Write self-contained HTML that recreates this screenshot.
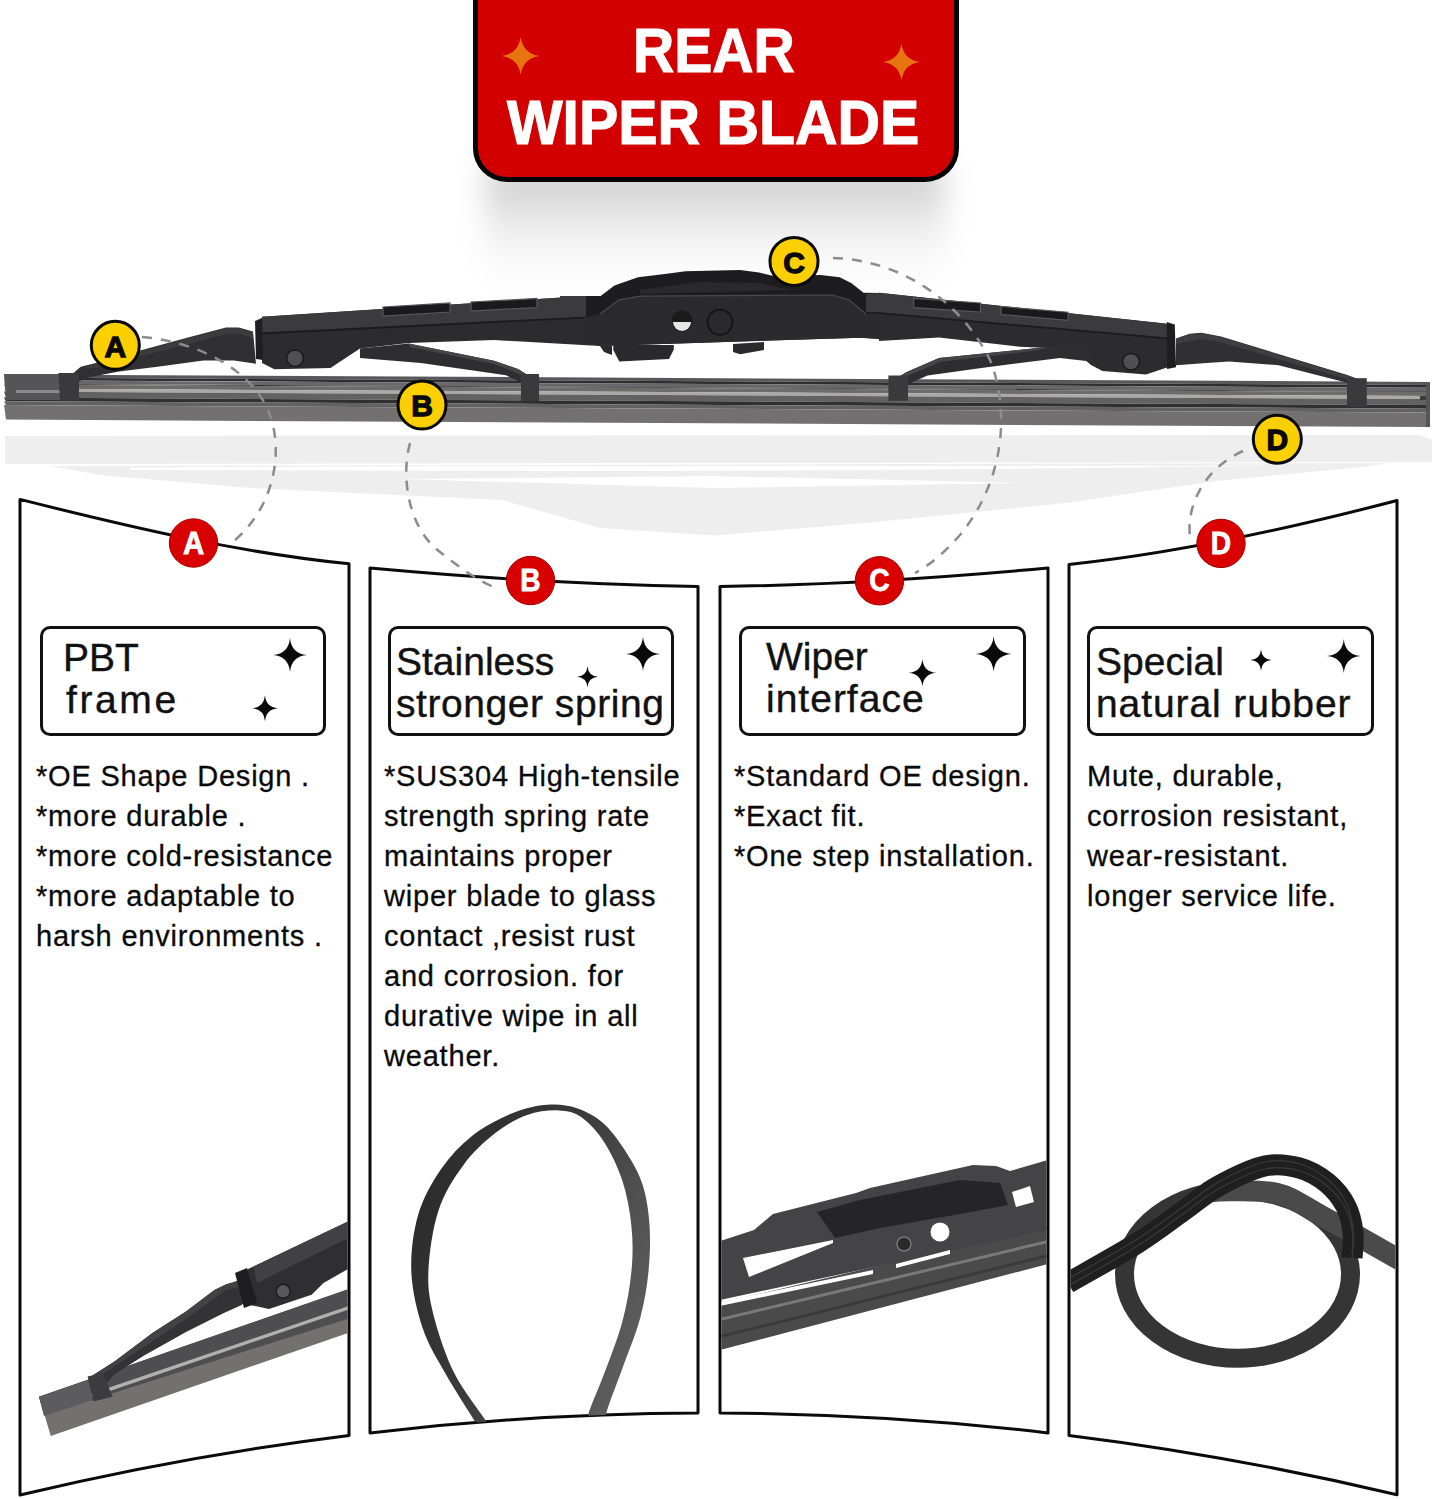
<!DOCTYPE html>
<html><head><meta charset="utf-8">
<style>
html,body{margin:0;padding:0;background:#fff;}
body{width:1434px;height:1499px;position:relative;overflow:hidden;font-family:"Liberation Sans",sans-serif;color:#111;}
.abs{position:absolute;}
#title{position:absolute;left:473px;top:-40px;width:476px;height:212px;background:#d20000;border:5px solid #050505;border-radius:34px;}
.tt{position:absolute;color:#fff;font-weight:bold;font-size:63px;line-height:63px;white-space:nowrap;-webkit-text-stroke:1.2px #fff;transform-origin:0 0;}
.body{position:absolute;font-size:29px;line-height:40px;letter-spacing:0.8px;white-space:nowrap;color:#0a0a0a;-webkit-text-stroke:0.3px #0a0a0a;}
.ptitle{position:absolute;font-size:39px;line-height:42px;white-space:nowrap;color:#111;-webkit-text-stroke:0.4px #111;}
</style></head>
<body>
<div class="abs" style="left:485px;top:165px;width:460px;height:125px;background:linear-gradient(to bottom, rgba(0,0,0,0.2) 0%, rgba(0,0,0,0.14) 25%, rgba(0,0,0,0.06) 55%, rgba(0,0,0,0.015) 80%, rgba(0,0,0,0) 100%);filter:blur(14px);"></div>
<svg class="abs" style="left:0;top:0" width="1434" height="1499" viewBox="0 0 1434 1499">
  <!-- reflection -->
  <g fill="#eeeeee">
    <path d="M5,436 L1420,435 L1432,440 L1432,462 L5,464 Z"/>
    <path d="M50,466 L1390,463 L1362,467 L1216,481 L1066,503 L865,523 L714,535.5 L600,528 L502,500 L251,488 L100,475 Z"/>
    <path d="M130,467.5 L480,466 L1000,466 L1290,465.5 L1000,469 L660,471 L130,470 Z" fill="#fff"/>
    <path d="M400,479 L714,476 L1025,483 L714,488 Z" fill="#fff"/>
  </g>
  <!-- wiper blade strip -->
  <g>
<path fill="#58585c" d="M4,374.4 L1430,381.9 L1430,385.1 L6,377.6 Z"/>
<path fill="#2e2e30" d="M4,377.6 L1430,385.1 L1430,387.8 L6,380.3 Z"/>
<path fill="#68686c" d="M4,380.3 L1430,387.8 L1430,391.3 L6,383.8 Z"/>
<path fill="#2a2a2a" d="M4,383.8 L1430,391.3 L1430,392.1 L6,384.6 Z"/>
<path fill="#6c6c6a" d="M4,384.6 L1430,392.1 L1430,396.1 L6,388.6 Z"/>
<path fill="#aaa9a5" d="M4,388.6 L1430,396.1 L1430,399.1 L6,391.6 Z"/>
<path fill="#626262" d="M4,391.6 L1430,399.1 L1430,405.1 L6,397.6 Z"/>
<path fill="#303030" d="M4,397.6 L1430,405.1 L1430,408.7 L6,401.2 Z"/>
<path fill="#626262" d="M4,401.2 L1430,408.7 L1430,412.6 L6,405.1 Z"/>
<path fill="#727070" d="M4,405.1 L1430,412.6 L1430,427.1 L6,419.6 Z"/>
    <!-- end caps -->
    <path fill="#555557" d="M4,374 L60,374 L60,400 L6,400 Z"/>
    <path fill="#8a8a8a" d="M16,390 L60,390 L60,393 L16,393 Z"/>
    <path fill="#3a3a3a" d="M1420,396 L1430,396 L1430,400 L1420,400 Z"/>
    <path fill="#555" d="M1426,382 L1430,382 L1430,427 L1426,427 Z"/>
  </g>
  <!-- wiper frame -->
  <g>
    <!-- left narrow arm -->
    <path d="M70,376 L80.7,366.8 L96,363 L142,350 L188,337.6 L226,327.6 L238.7,327.6 L253,331.5 L256,363.7 L234,360.6 L203.4,360.6 L157.4,366.8 L119,371.4 L88,377.5 L77.6,382 Z" fill="#303032"/>
    <path d="M82,369 L96,364 L142,351 L188,338.6 L226,328.6 L239,328.6 L253,332.5 L253,338 L239,334 L226,334 L188,344 L142,356 L96,368 Z" fill="#3c3c3e"/>
    <!-- left strut -->
    <path d="M360,348.5 L408.6,343.6 L494,360.7 L518.5,369.2 L528,375.3 L521,382.6 L506,375.3 L421,363 L360,358 Z" fill="#2e2e30"/>
    <path d="M408.6,343.6 L494,360.7 L518.5,369.2 L528,375.3 L525,377 L512,371 L494,364 L410,347 Z" fill="#454547"/>
    <!-- left main frame -->
    <path d="M262,316.7 L584.4,296 L600,296 L600,346 L494,340 L408.6,343 L360,348.5 L338,363 L330.5,368 L274.4,369.2 L262,363 Z" fill="#2c2c2e"/>
    <path d="M262,316.7 L584.4,296 L584.4,316.7 L262,332.6 Z" fill="#3b3b3d"/>
    <path d="M262,332.6 L584.4,316.7 L584.4,318.5 L262,334.4 Z" fill="#1c1c1e"/>
    <!-- left collar -->
    <path d="M255,321 L262,318 L263,360 L256,359 Z" fill="#1e1e20"/>
    <!-- center piece -->
    <path d="M586,296 L600.3,296.2 L614.5,285.6 L638,277.3 L666.7,273.7 L685.6,271.3 L740,270 L759,272.5 L773.4,276 L820.8,275 L839.7,277.3 L851.6,283.2 L863.5,292.7 L880,293 L880,339 L860,337.7 L600,346 L586,340 Z" fill="#1d1d1f"/>
    <path d="M584,318 L600,314 L619,299.8 L640.6,296.2 L832.6,295 L849,299.8 L865.8,314 L881,313 L881,339 L860,337.7 L600,346 L584,340 Z" fill="#2b2b2d"/>
    <path d="M600,314 L619,299.8 L640.6,296.2 L832.6,295 L849,299.8 L865.8,314" fill="none" stroke="#4a4a4c" stroke-width="1.2"/>
    <path d="M640,290 L700,282 L760,283 L790,290 L640,294 Z" fill="#2a2a2c"/>
    <path d="M560,296 L586,296 L586,316 L560,318 Z" fill="#3b3b3d"/>
    <path d="M613.3,345 L673.8,345 L673.8,349.6 L669,359 L619.3,361.4 L613.3,350 Z" fill="#2a2a2c"/>
    <path d="M600,346 L612,346 L612,355 L604,352 Z" fill="#2a2a2c"/>
    <path d="M733,344 L764,342 L764,350 L740,354.3 L733,352 Z" fill="#2a2a2c"/>
    <circle cx="682" cy="321" r="10.5" fill="#1a1a1a"/>
    <path d="M673,322 L691,322 A9,9 0 0 1 673,322 Z" fill="#e6e6e6"/>
    <circle cx="720" cy="322.3" r="12.5" fill="#2a2a2c" stroke="#161616" stroke-width="2"/>
    <!-- right main frame -->
    <path d="M879,292.7 L1167,323.7 L1167,367.5 L1146,374.4 L1102.5,371 L1091,365 L1072.5,349 L1019.6,346.7 L939,337.5 L879,341 Z" fill="#2c2c2e"/>
    <path d="M879,292.7 L1167,323.7 L1167,337.5 L879,312.2 Z" fill="#3b3b3d"/>
    <path d="M879,312.2 L1167,337.5 L1167,339.3 L879,314 Z" fill="#1c1c1e"/>
    <path d="M866,294 L880,293 L880,312 L866,312 Z" fill="#3b3b3d"/>
    <!-- right strut -->
    <path d="M1090,347 L1049.5,346.7 L939,358 L906.8,372 L895,379 L906.8,384.7 L927.5,375.5 L985,367.5 L1060,358 L1095,362 Z" fill="#2e2e30"/>
    <path d="M1049.5,346.7 L939,358 L906.8,372 L895,379 L898,381 L910,375 L940,362 L1040,350 Z" fill="#454547"/>
    <!-- right collar -->
    <path d="M1166.8,322 L1174.8,324.5 L1176,367.3 L1167,369 Z" fill="#1e1e20"/>
    <!-- right narrow arm -->
    <path d="M1176,338.6 L1189.6,333.7 L1201.5,332.7 L1221,336.6 L1348,375.2 L1358,379 L1356,385 L1348,383 L1278.7,365.3 L1229,361.4 L1199.5,363.4 L1176,365.3 Z" fill="#303032"/>
    <path d="M1176,339 L1189.6,334.2 L1201.5,333.2 L1221,337 L1348,375.6 L1352,378 L1346,379 L1220,342 L1200,339 L1176,344 Z" fill="#3e3e40"/>
    <!-- clips -->
    <path d="M58.4,373 L79,373 L79,400.5 L60,400.5 Z" fill="#3a3a3c"/>
    <path d="M521,374 L539,374 L539,401 L521,401 Z" fill="#3a3a3c"/>
    <path d="M888.4,375.5 L908,375.5 L908,400.8 L888.4,400.8 Z" fill="#3a3a3c"/>
    <path d="M1347,378.2 L1366.8,378.2 L1366.8,407 L1347,407 Z" fill="#3a3a3c"/>
    <!-- slots -->
    <g fill="#1a1a1c" stroke="#58585a" stroke-width="1.2">
      <path d="M383,307 L450,303 L450,312 L383,316 Z"/>
      <path d="M471,302 L537,298.5 L537,307.5 L471,311 Z"/>
      <path d="M913.7,298.4 L980.5,303 L980.5,312.2 L913.7,307.6 Z"/>
      <path d="M1001,306.5 L1068,312.2 L1068,320.3 L1001,314.5 Z"/>
    </g>
    <!-- bolts -->
    <circle cx="295" cy="358.2" r="8.3" fill="#505052" stroke="#1a1a1a" stroke-width="1.5"/>
    <circle cx="1131" cy="361.7" r="8.3" fill="#505052" stroke="#1a1a1a" stroke-width="1.5"/>
  </g>
  <!-- panels -->
  <g fill="#fff" stroke="#0a0a0a" stroke-width="3" stroke-linejoin="round">
    <path d="M20.0,499.4 C130,527 240,553 349.0,563.8 L349.0,1435.4 Q184.5,1455.8 20.0,1495.0 Z"/>
    <path d="M370.0,568 C480,578 590,585 698.0,586.5 L698.0,1413.0 Q534.0,1413.6 370.0,1432.9 Z"/>
    <path d="M720.0,586.5 C828,585 938,578 1048.0,568 L1048.0,1432.9 Q884.0,1413.6 720.0,1413.0 Z"/>
    <path d="M1069.0,564.5 C1178,553 1288,529 1397.0,500.5 L1397.0,1494.8 Q1233.0,1455.8 1069.0,1435.4 Z"/>
  </g>
  <!-- dashed arcs -->
  <g fill="none" stroke="#8c8c8c" stroke-width="2.5" stroke-dasharray="10 9">
    <path d="M142,337 C200,342 250,370 268,410 C285,450 275,510 229,545"/>
    <path d="M410,443 C400,480 410,530 440,552 C460,568 480,582 494,587"/>
    <path d="M833,258 C900,260 960,300 990,360 C1010,410 1005,480 960,535 C945,552 930,565 915,573"/>
    <path d="M1243,451 C1205,468 1186,505 1190,537"/>
  </g>
  <!-- yellow markers -->
  <g fill="#fccf00" stroke="#0a0a0a" stroke-width="3">
    <circle cx="115.3" cy="345.3" r="24"/>
    <circle cx="422" cy="405" r="24"/>
    <circle cx="794" cy="261.4" r="24"/>
    <circle cx="1277.3" cy="439.2" r="24"/>
  </g>
  <g font-family="Liberation Sans" font-weight="bold" font-size="30" fill="#0a0a0a" stroke="#0a0a0a" stroke-width="1.3" text-anchor="middle">
    <text x="115.3" y="356.5">A</text>
    <text x="422" y="416.2">B</text>
    <text x="794" y="272.6">C</text>
    <text x="1277.3" y="450.4">D</text>
  </g>
  <!-- red markers -->
  <g fill="#d80000" stroke="#a00000" stroke-width="1">
    <circle cx="193.5" cy="543" r="24.2"/>
    <circle cx="530.5" cy="580.5" r="24.2"/>
    <circle cx="879.5" cy="580.8" r="24.2"/>
    <circle cx="1221" cy="543.4" r="24.2"/>
  </g>
  <g font-family="Liberation Sans" font-weight="bold" font-size="32" fill="#fff" stroke="#fff" stroke-width="0.8" text-anchor="middle">
    <text transform="translate(193.5,553.5) scale(0.92,1)">A</text>
    <text transform="translate(530.5,591) scale(0.88,1)">B</text>
    <text transform="translate(879.5,591.3) scale(0.88,1)">C</text>
    <text transform="translate(1221,553.9) scale(0.88,1)">D</text>
  </g>
</svg>

<div id="title"></div>
<div class="tt" style="left:633px;top:19px;transform:scaleX(0.905);">REAR</div>
<div class="tt" style="left:507px;top:91px;transform:scaleX(0.935);">WIPER BLADE</div>


<svg class="abs" style="left:0;top:0" width="1434" height="1499" viewBox="0 0 1434 1499">
<defs>
  <clipPath id="cpA"><rect x="21.5" y="1100" width="326" height="380"/></clipPath>
  <clipPath id="cpB"><path d="M371.5,1000 L696.5,1000 L696.5,1413 Q534,1413.6 371.5,1432.9 Z"/></clipPath>
  <clipPath id="cpC"><rect x="721.5" y="1100" width="325" height="300"/></clipPath>
  <clipPath id="cpD"><rect x="1070.5" y="1100" width="325" height="300"/></clipPath>
  <linearGradient id="gB" gradientUnits="userSpaceOnUse" x1="420" y1="1200" x2="650" y2="1300">
    <stop offset="0" stop-color="#2c2c2c"/><stop offset="0.45" stop-color="#3a3a3a"/><stop offset="0.75" stop-color="#4e4e4e"/><stop offset="1" stop-color="#5c5c5c"/>
  </linearGradient>
</defs>
<g fill="#0a0a0a">
  <path d="M290.0,638.0 Q291.4,653.6 307.0,655.0 Q291.4,656.4 290.0,672.0 Q288.6,656.4 273.0,655.0 Q288.6,653.6 290.0,638.0 Z"/>
  <path d="M265.0,695.3 Q266.0,707.3 278.0,708.3 Q266.0,709.3 265.0,721.3 Q264.0,709.3 252.0,708.3 Q264.0,707.3 265.0,695.3 Z"/>
  <path d="M643.0,636.7 Q644.4,652.6 660.3,654.0 Q644.4,655.4 643.0,671.3 Q641.6,655.4 625.7,654.0 Q641.6,652.6 643.0,636.7 Z"/>
  <path d="M587.5,666.2 Q588.3,675.9 598.0,676.7 Q588.3,677.5 587.5,687.2 Q586.7,677.5 577.0,676.7 Q586.7,675.9 587.5,666.2 Z"/>
  <path d="M993.6,636.3 Q995.0,652.6 1011.3,654.0 Q995.0,655.4 993.6,671.7 Q992.2,655.4 975.9,654.0 Q992.2,652.6 993.6,636.3 Z"/>
  <path d="M922.4,658.9 Q923.5,671.7 936.3,672.8 Q923.5,673.9 922.4,686.7 Q921.3,673.9 908.5,672.8 Q921.3,671.7 922.4,658.9 Z"/>
  <path d="M1343.8,639.0 Q1345.2,654.6 1360.8,656.0 Q1345.2,657.4 1343.8,673.0 Q1342.4,657.4 1326.8,656.0 Q1342.4,654.6 1343.8,639.0 Z"/>
  <path d="M1261.0,649.5 Q1261.8,659.2 1271.5,660.0 Q1261.8,660.8 1261.0,670.5 Q1260.2,660.8 1250.5,660.0 Q1260.2,659.2 1261.0,649.5 Z"/>
</g>
<g fill="#e8740f">
  <path d="M520.7,37.0 Q523.0,53.7 539.7,56.0 Q523.0,58.3 520.7,75.0 Q518.4,58.3 501.7,56.0 Q518.4,53.7 520.7,37.0 Z"/>
  <path d="M901.4,43.5 Q903.6,59.8 919.9,62.0 Q903.6,64.2 901.4,80.5 Q899.2,64.2 882.9,62.0 Q899.2,59.8 901.4,43.5 Z"/>
</g>
<!-- panel A image -->
<g clip-path="url(#cpA)">
  <path d="M39,1396.8 L348.4,1289 L348.4,1332.8 L50.8,1436 Z" fill="#737170"/>
  <path d="M39,1396.8 L348.4,1289 L348.4,1318.5 L44,1415 Z" fill="#4e4e50"/>
  <path d="M52,1407 L348.4,1306 L348.4,1309.5 L53,1410.5 Z" fill="#b0b0ac"/>
  <path d="M39,1396.8 L88,1380 L93,1400 L44,1416 Z" fill="#5c5c5e"/>
  <path d="M91,1376.6 L114.8,1361.2 L152.8,1332.8 L186,1311.4 L214.4,1290 L226.3,1284.2 L240,1280 L246,1300 L241.7,1305 L223.9,1313 L186,1332 L143.3,1356 L114.8,1374 L103,1387.3 Z" fill="#333335"/>
  <path d="M91,1376.6 L114.8,1361.2 L152.8,1332.8 L186,1311.4 L214.4,1290 L226.3,1284.2 L238.1,1281.8 L239,1287 L226,1290 L190,1316 L150,1343 L112,1368 L96,1379 Z" fill="#424244"/>
  <path d="M246,1270 L348.4,1221.3 L348.4,1268.8 L323.5,1283 L311.6,1294.8 L269,1309 L250,1305 Z" fill="#2f2f31"/>
  <path d="M253.5,1266.4 L348.4,1221.3 L348.4,1238 L257,1283 Z" fill="#414143"/>
  <path d="M235,1273 L247,1268 L257,1303 L244,1308 Z" fill="#1e1e20"/>
  <path d="M87.6,1376.6 L103,1373 L112.5,1396.8 L93.5,1401.5 Z" fill="#3c3c3e"/>
  <circle cx="283.2" cy="1291.3" r="7" fill="#58585a" stroke="#1c1c1c" stroke-width="1.5"/>
</g>
<!-- panel B spring loop -->
<g clip-path="url(#cpB)">
  <path d="M474.9,1421.3 C470.0,1413.3 454.1,1389.1 445.4,1373.6 C436.7,1358.1 428.4,1345.3 422.7,1328.3 C417.0,1311.2 412.1,1290.4 411.3,1271.5 C410.6,1252.6 413.2,1231.8 418.2,1214.8 C423.1,1197.8 431.8,1182.7 440.8,1169.4 C449.9,1156.2 460.5,1144.8 472.6,1135.4 C484.7,1125.9 501.0,1117.8 513.5,1112.7 C525.9,1107.6 536.9,1105.5 547.5,1104.7 C558.1,1104.0 567.5,1104.9 577.0,1108.2 C586.4,1111.4 595.9,1116.5 604.2,1124.0 C612.5,1131.6 620.5,1143.3 626.9,1153.5 C633.3,1163.7 639.0,1173.2 642.8,1185.3 C646.6,1197.4 648.7,1211.8 649.6,1226.1 C650.5,1240.5 650.0,1256.4 648.5,1271.5 C647.0,1286.7 644.5,1301.8 640.5,1316.9 C636.6,1332.0 630.3,1346.4 624.6,1362.3 C619.0,1378.2 609.9,1400.9 606.5,1412.2 C603.1,1423.6 604.6,1427.3 604.2,1430.4 L588.3,1430.4 C588.3,1427.7 585.7,1423.9 588.3,1414.5 C591.0,1405.0 598.5,1389.1 604.2,1373.6 C609.9,1358.1 617.8,1338.5 622.4,1321.4 C626.9,1304.4 629.9,1287.4 631.4,1271.5 C633.0,1255.6 633.0,1241.3 631.4,1226.1 C629.9,1211.0 626.9,1194.8 622.4,1180.8 C617.8,1166.8 611.0,1152.8 604.2,1142.2 C597.4,1131.6 589.1,1122.5 581.5,1117.2 C574.0,1111.9 567.9,1110.8 558.8,1110.4 C549.8,1110.0 537.7,1111.2 527.1,1115.0 C516.5,1118.7 505.9,1124.8 495.3,1133.1 C484.7,1141.4 473.0,1152.0 463.5,1164.9 C454.1,1177.7 444.4,1192.5 438.6,1210.3 C432.7,1228.0 429.1,1253.8 428.4,1271.5 C427.6,1289.3 429.7,1299.9 434.0,1316.9 C438.4,1333.9 445.8,1356.2 454.5,1373.6 C463.2,1391.0 480.2,1411.8 486.2,1421.3 C492.3,1430.7 490.0,1428.9 490.8,1430.4 Z" fill="url(#gB)"/>
</g>
<!-- panel C interface -->
<g clip-path="url(#cpC)">
  <path d="M720,1303 L1048,1226 L1048,1264 L720,1350 Z" fill="#4a4a4b"/>
  <path d="M720,1318 L1048,1240 L1048,1243 L720,1321 Z" fill="#7a7a7a"/>
  <path d="M720,1335 L1048,1254 L1048,1257 L720,1338 Z" fill="#3a3a3a"/>
  <path d="M720,1241 L754,1230 L773,1214 L856,1193 L870,1188 L973,1165 L996,1166 L1010,1171 L1048,1160 L1048,1230 L720,1300 Z" fill="#444446"/>
  <path d="M817,1212 L860,1200 L960,1180 L1000,1183 L1008,1205 L960,1214 L880,1228 L835,1238 Z" fill="#252527"/>
  <path d="M720,1302 L873,1270 L873,1274 L720,1306 Z" fill="#fff"/>
  <path d="M896,1264 L950,1250 L950,1254 L896,1268 Z" fill="#fff"/>
  <path d="M743,1258 L833,1240 L833,1243 L749,1277 Z" fill="#fff"/>
  <circle cx="940" cy="1232" r="9.5" fill="#fff"/>
  <circle cx="904" cy="1244" r="7" fill="#2a2a2a" stroke="#777" stroke-width="1.5"/>
  <path d="M1012,1192 L1030,1186 L1034,1202 L1016,1207 Z" fill="#fff"/>
</g>
<!-- panel D knot -->
<g clip-path="url(#cpD)" fill="none">
  <ellipse cx="1237.5" cy="1274.3" rx="113" ry="84" stroke="#353535" stroke-width="19"/>
  <path d="M1205.0,1193.3 C1207.2,1192.9 1206.6,1191.0 1218.5,1191.0 C1230.4,1191.0 1259.0,1189.1 1276.4,1193.3 C1293.8,1197.5 1302.1,1205.3 1322.7,1216.4 C1343.3,1227.5 1387.1,1252.7 1400.0,1260.0" stroke="#4a4a4a" stroke-width="21"/>
  <path d="M1068.0,1283.0 C1079.6,1276.3 1118.2,1255.1 1137.5,1243.0 C1156.8,1230.9 1170.3,1220.0 1183.8,1210.5 C1197.3,1201.0 1205.0,1193.4 1218.5,1186.0 C1232.0,1178.6 1251.3,1169.0 1264.8,1166.0 C1278.3,1163.0 1289.1,1165.2 1299.5,1168.0 C1309.9,1170.8 1319.6,1176.7 1327.3,1183.0 C1335.0,1189.3 1341.5,1197.7 1345.8,1206.0 C1350.1,1214.3 1352.0,1223.9 1353.0,1232.6 C1354.0,1241.3 1352.2,1253.8 1352.0,1258.0" stroke="#1f1f1f" stroke-width="21"/>
  <path d="M1068.0,1283.0 C1079.6,1276.3 1118.2,1255.1 1137.5,1243.0 C1156.8,1230.9 1170.3,1220.0 1183.8,1210.5 C1197.3,1201.0 1205.0,1193.4 1218.5,1186.0 C1232.0,1178.6 1251.3,1169.0 1264.8,1166.0 C1278.3,1163.0 1289.1,1165.2 1299.5,1168.0 C1309.9,1170.8 1319.6,1176.7 1327.3,1183.0 C1335.0,1189.3 1341.5,1197.7 1345.8,1206.0 C1350.1,1214.3 1352.0,1223.9 1353.0,1232.6 C1354.0,1241.3 1352.2,1253.8 1352.0,1258.0" stroke="#3a3a3a" stroke-width="1.2" transform="translate(0,-4)"/>
  <path d="M1068.0,1283.0 C1079.6,1276.3 1118.2,1255.1 1137.5,1243.0 C1156.8,1230.9 1170.3,1220.0 1183.8,1210.5 C1197.3,1201.0 1205.0,1193.4 1218.5,1186.0 C1232.0,1178.6 1251.3,1169.0 1264.8,1166.0 C1278.3,1163.0 1289.1,1165.2 1299.5,1168.0 C1309.9,1170.8 1319.6,1176.7 1327.3,1183.0 C1335.0,1189.3 1341.5,1197.7 1345.8,1206.0 C1350.1,1214.3 1352.0,1223.9 1353.0,1232.6 C1354.0,1241.3 1352.2,1253.8 1352.0,1258.0" stroke="#3a3a3a" stroke-width="1.2" transform="translate(0,3)"/>
</g>
</svg>

<!-- panel titles boxes -->
<div class="abs" style="left:40px;top:626px;width:280px;height:104px;border:3px solid #111;border-radius:10px;"></div>
<div class="abs" style="left:388px;top:626px;width:280px;height:104px;border:3px solid #111;border-radius:10px;"></div>
<div class="abs" style="left:738.5px;top:626px;width:281.5px;height:104px;border:3px solid #111;border-radius:10px;"></div>
<div class="abs" style="left:1087.4px;top:626px;width:281px;height:104px;border:3px solid #111;border-radius:10px;"></div>

<div class="ptitle" style="left:63px;top:637px;">PBT<br><span style="letter-spacing:2.6px;margin-left:3px">frame</span></div>
<div class="ptitle" style="left:396px;top:641px;">Stainless<br><span style="letter-spacing:0.55px">stronger spring</span></div>
<div class="ptitle" style="left:766px;top:636px;">Wiper<br><span style="letter-spacing:1px">interface</span></div>
<div class="ptitle" style="left:1096px;top:641px;">Special<br><span style="letter-spacing:0.9px">natural rubber</span></div>

<div class="body" style="left:36px;top:756px;">*OE Shape Design .<br>*more durable .<br>*more cold-resistance<br>*more adaptable to<br>harsh environments .</div>
<div class="body" style="left:384px;top:756px;">*SUS304 High-tensile<br>strength spring rate<br>maintains proper<br>wiper blade to glass<br>contact ,resist rust<br>and corrosion. for<br>durative wipe in all<br>weather.</div>
<div class="body" style="left:734px;top:756px;">*Standard OE design.<br>*Exact fit.<br>*One step installation.</div>
<div class="body" style="left:1087px;top:756px;">Mute, durable,<br>corrosion resistant,<br>wear-resistant.<br>longer service life.</div>

</body></html>
